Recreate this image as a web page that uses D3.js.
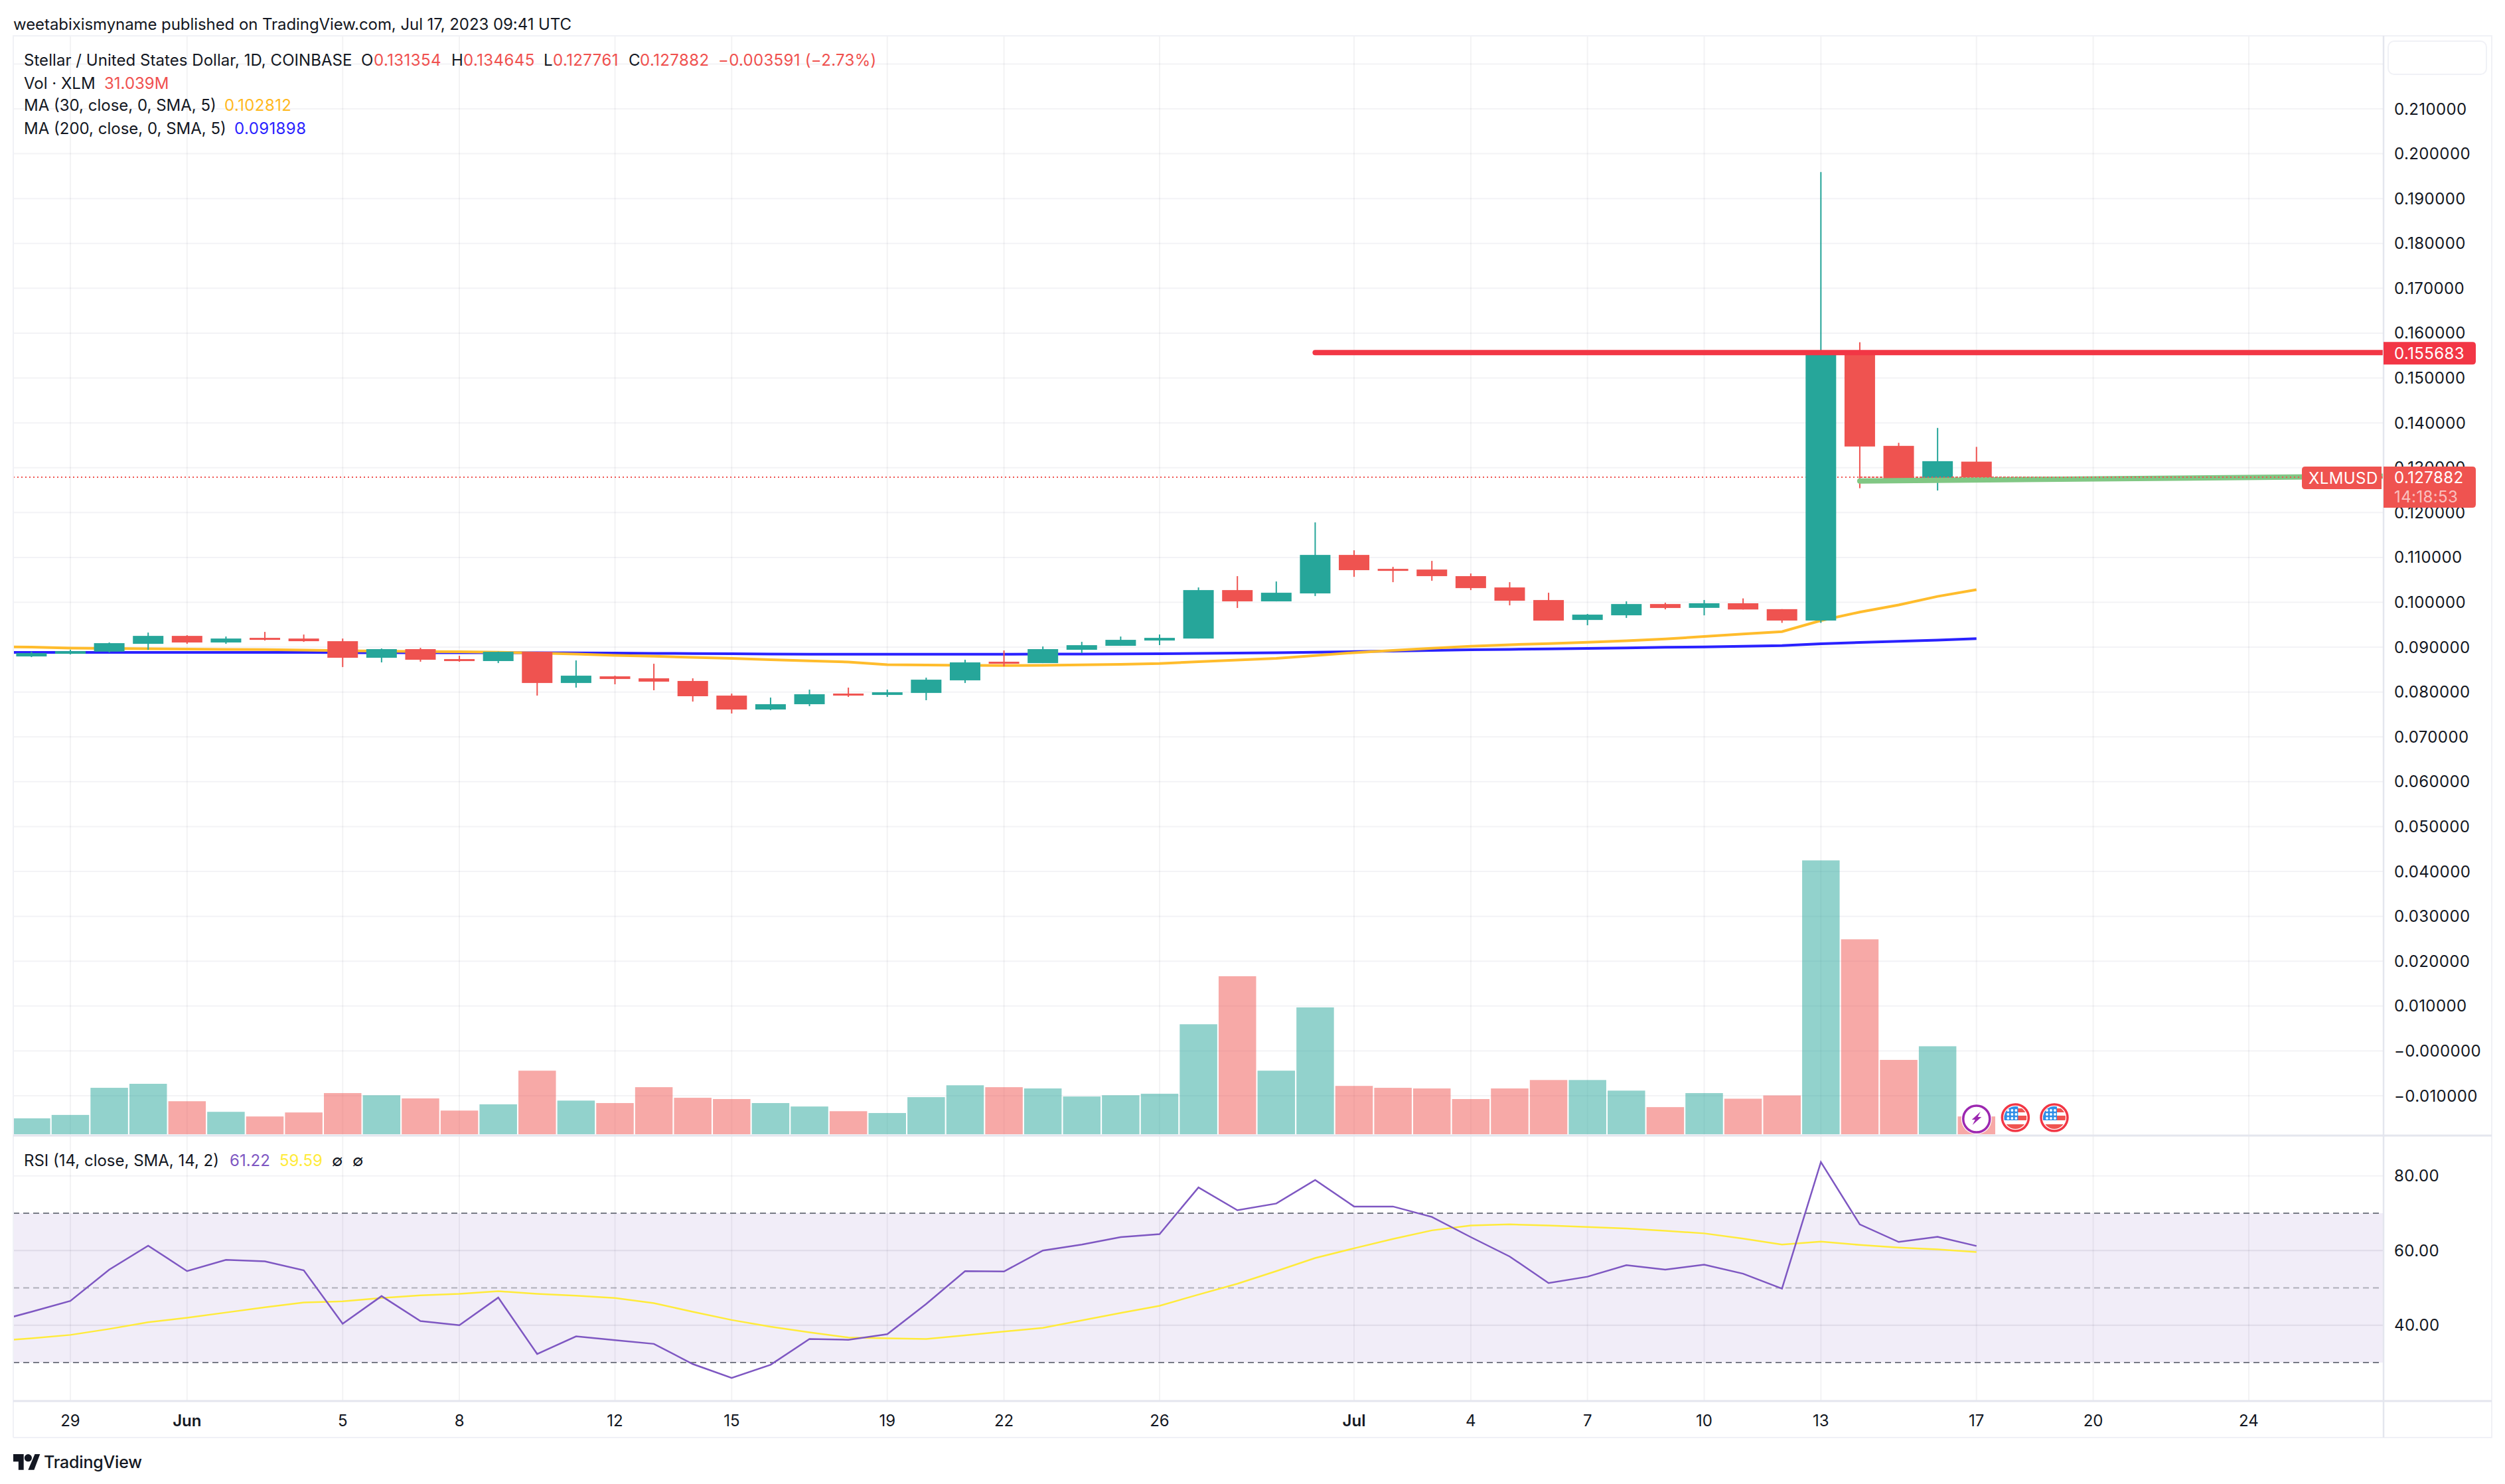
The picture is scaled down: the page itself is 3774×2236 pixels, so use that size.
<!DOCTYPE html>
<html><head><meta charset="utf-8">
<script src="https://d3js.org/d3.v7.min.js"></script>
<style>
html,body{margin:0;padding:0;background:#fff}
svg{display:block}
text{font-family:Inter,"Noto Sans",sans-serif;fill:#131722;font-size:24px;dominant-baseline:central}
</style></head><body><div id="c"></div>
<script>
const dates=["2023-05-27","2023-05-28","2023-05-29","2023-05-30","2023-05-31","2023-06-01","2023-06-02","2023-06-03","2023-06-04","2023-06-05","2023-06-06","2023-06-07","2023-06-08","2023-06-09","2023-06-10","2023-06-11","2023-06-12","2023-06-13","2023-06-14","2023-06-15","2023-06-16","2023-06-17","2023-06-18","2023-06-19","2023-06-20","2023-06-21","2023-06-22","2023-06-23","2023-06-24","2023-06-25","2023-06-26","2023-06-27","2023-06-28","2023-06-29","2023-06-30","2023-07-01","2023-07-02","2023-07-03","2023-07-04","2023-07-05","2023-07-06","2023-07-07","2023-07-08","2023-07-09","2023-07-10","2023-07-11","2023-07-12","2023-07-13","2023-07-14","2023-07-15","2023-07-16","2023-07-17"];
const opens=[null,.08793,.08852,.08901,.09074,.09251,.09104,.09207,.09192,.09133,.08763,.08956,.08734,.0869,.08896,.08201,.08349,.08305,.08246,.0792,.0761,.07728,.07965,.07935,.07979,.0826,.08675,.08645,.08941,.0903,.09148,.09192,.10272,.10021,.10198,.11056,.10745,.1073,.10583,.10331,.1005,.09606,.0971,.09961,.09876,.09978,.09847,.09593,.1556,.13487,.1274,.131354];
const highs=[null,.08901,.08941,.09104,.09325,.09266,.09237,.0934,.09281,.09192,.0897,.08985,.08808,.08901,.08896,.08704,.08364,.0863,.08305,.07965,.07876,.08053,.08098,.08053,.0832,.08719,.08926,.09015,.09118,.09237,.09281,.10331,.10583,.10464,.11781,.11159,.1079,.10923,.10642,.10449,.10213,.0974,.10021,.09991,.10051,.10087,.09847,.1959,.15797,.13555,.13887,.134645];
const lows=[null,.08778,.08837,.08882,.08941,.09074,.09074,.09148,.09118,.08556,.0866,.08675,.08675,.08645,.0792,.08098,.08172,.08039,.07787,.07521,.07595,.07684,.07891,.07891,.07817,.08201,.08571,.08645,.08867,.0903,.09044,.09192,.09873,.10021,.10139,.10568,.10449,.10479,.10272,.09932,.09592,.09488,.09651,.09843,.09709,.0984,.09542,.09542,.12543,.1271,.12492,.127761];
const closes=[null,.08867,.08911,.09089,.09251,.09104,.09192,.09163,.09133,.08763,.08956,.08719,.0869,.08896,.08201,.08364,.0829,.08231,.07906,.0761,.07728,.0795,.0792,.07994,.08275,.0866,.0863,.08956,.09044,.09163,.09207,.10272,.10021,.10213,.11056,.10716,.10701,.10583,.10316,.10035,.09592,.09725,.09961,.09873,.09978,.0984,.09593,.1556,.13473,.1274,.13146,.127882];
const volumes=[null,27.7,33.7,81,88,57.6,39.1,31,38,71.8,68,62.5,41.3,52.2,110.9,58.7,54.4,82.1,63.6,61.4,54.4,48.4,40.2,37,64.7,85.4,82.1,79.9,65.8,68,70.7,191.9,275.7,110.9,221.3,84.3,81,79.9,61.4,79.9,94.6,94.6,76.1,47.3,71.8,62,67.7,477.8,340.1,129.7,153.5,31.039];
const ma30=[.0901,.09,.0898,.0897,.08965,.08956,.08951,.08946,.08936,.08921,.08911,.08901,.08896,.08887,.08867,.08847,.08818,.08798,.08773,.08749,.08719,.08694,.0867,.0861,.08601,.08596,.08591,.08596,.08606,.08615,.08635,.08675,.08714,.08749,.08813,.08877,.08926,.08975,.0902,.09054,.09079,.09108,.09143,.09182,.09237,.09295,.09346,.09593,.09782,.09942,.10131,.102812];
const ma200=[.08882,.08882,.08882,.08882,.08882,.08882,.08882,.08882,.08882,.08877,.08877,.08877,.08877,.08877,.08877,.08872,.08867,.08862,.08857,.08852,.08847,.08842,.08842,.08842,.08842,.08842,.08842,.08845,.08847,.08849,.08852,.0886,.08868,.08876,.08887,.08901,.08914,.08928,.08941,.08951,.08961,.0897,.08984,.08997,.09005,.09018,.09034,.09077,.09104,.09131,.09158,.091898];
const rsi=[40.8,43.6,46.5,54.9,61.3,54.5,57.5,57.1,54.7,40.4,47.8,41.1,40,47.4,32.3,37,36,35,29.6,25.9,29.4,36.3,36.1,37.6,45.7,54.5,54.4,60,61.6,63.6,64.4,76.9,70.8,72.6,78.9,71.8,71.8,69,63.6,58.4,51.3,53,56.1,54.9,56.2,53.8,49.8,83.7,67,62.3,63.7,61.22];
const rsiMa=[35.7,36.5,37.4,39,40.8,42,43.4,44.8,46.1,46.4,47.3,48,48.4,49.1,48.4,47.9,47.3,45.9,43.6,41.4,39.6,38.1,36.7,36.5,36.3,37.3,38.3,39.3,41.3,43.3,45.2,48.2,51.1,54.5,58,60.6,63.1,65.4,66.7,67,66.7,66.3,65.9,65.3,64.6,63.2,61.6,62.4,61.5,60.8,60.3,59.59];
const priceTicks=[.22,.21,.2,.19,.18,.17,.16,.15,.14,.13,.12,.11,.1,.09,.08,.07,.06,.05,.04,.03,.02,.01,0,-.01];
const rsiTicks=[80,60,40];
const rsiBands=[70,50,30];
const timeTicks=[["2023-05-29","29"],["2023-06-01","Jun"],["2023-06-05","5"],["2023-06-08","8"],["2023-06-12","12"],["2023-06-15","15"],["2023-06-19","19"],["2023-06-22","22"],["2023-06-26","26"],["2023-07-01","Jul"],["2023-07-04","4"],["2023-07-07","7"],["2023-07-10","10"],["2023-07-13","13"],["2023-07-17","17"],["2023-07-20","20"],["2023-07-24","24"]];
const resistance={dates:["2023-06-30","2023-07-30"],values:[.155683,.155683]};
const support={dates:["2023-07-14","2023-07-28"],values:[.12703,.12815]};
const lastPrice=.127882;
const eventDates=[["2023-07-17","bolt"],["2023-07-18","us"],["2023-07-19","us"]];

const W=3774,H=2236,L=20,R=3591,RR=3754,T=54,SEP=1711,TA=2111,B=2166;
const UP="#26a69a",DN="#ef5350";
const p=d3.utcParse("%Y-%m-%d");
const x=d3.scaleUtc().domain([p("2023-05-29"),p("2023-07-24")]).range([106,3388]);
const y=d3.scaleLinear().domain([.21,-.01]).range([164,1651]);
const yVol=d3.scaleLinear().domain([0,500]).range([1709,1709-500/1.158]);
const yRsi=d3.scaleLinear().domain([30,70]).range([2053,1828]);
const svg=d3.select("#c").append("svg").attr("width",W).attr("height",H).attr("viewBox",[0,0,W,H]);
const defs=svg.append("defs");
defs.append("clipPath").attr("id","plot").append("rect").attr("x",L).attr("y",T).attr("width",R-L).attr("height",SEP-T);
defs.append("clipPath").attr("id","flag").append("circle").attr("r",17);

svg.append("rect").attr("width",W).attr("height",H).attr("fill","#fff");
const GRID="#f3f3f6";
svg.append("g").selectAll("line").data(priceTicks).join("line")
 .attr("x1",L).attr("x2",R).attr("y1",d=>y(d)).attr("y2",d=>y(d)).attr("stroke",GRID).attr("stroke-width",2);
svg.append("g").selectAll("line").data(rsiTicks).join("line")
 .attr("x1",L).attr("x2",R).attr("y1",d=>yRsi(d)).attr("y2",d=>yRsi(d)).attr("stroke",GRID).attr("stroke-width",2);
svg.append("rect").attr("x",L).attr("width",R-L).attr("y",yRsi(70)).attr("height",yRsi(30)-yRsi(70)).attr("fill","#7e57c2").attr("fill-opacity",.11);
svg.append("g").selectAll("line").data(rsiTicks.filter(d=>d<70&&d>30)).join("line")
 .attr("x1",L).attr("x2",R).attr("y1",d=>yRsi(d)).attr("y2",d=>yRsi(d)).attr("stroke","#131722").attr("stroke-opacity",.03).attr("stroke-width",2);
svg.append("g").selectAll("line").data(timeTicks).join("line")
 .attr("x1",d=>x(p(d[0]))).attr("x2",d=>x(p(d[0]))).attr("y1",T).attr("y2",TA).attr("stroke","#131722").attr("stroke-opacity",.05).attr("stroke-width",2);
svg.append("g").selectAll("line").data(rsiBands).join("line")
 .attr("x1",L).attr("x2",R).attr("y1",d=>yRsi(d)).attr("y2",d=>yRsi(d))
 .attr("stroke","#787b86").attr("stroke-opacity",d=>d===50?.55:1).attr("stroke-width",2).attr("stroke-dasharray","9 6");

const plot=svg.append("g").attr("clip-path","url(#plot)");
const rows=dates.map((d,i)=>({t:p(d),o:opens[i],h:highs[i],l:lows[i],c:closes[i],v:volumes[i]})).filter(d=>d.o!==null);
plot.append("g").selectAll("rect").data(rows).join("rect")
 .attr("x",d=>x(d.t)-28.25).attr("width",56.5).attr("y",d=>yVol(d.v)).attr("height",d=>yVol(0)-yVol(d.v))
 .attr("fill",d=>d.c>=d.o?UP:DN).attr("fill-opacity",.5);
plot.append("line").attr("x1",L).attr("x2",R).attr("y1",y(lastPrice)).attr("y2",y(lastPrice)).attr("stroke",DN).attr("stroke-width",2).attr("stroke-dasharray","2 4");
const line=d3.line().x((d,i)=>x(p(dates[i]))).y(d=>y(d));
plot.append("path").attr("d",line(ma200)).attr("fill","none").attr("stroke","#2a22ff").attr("stroke-width",4);
plot.append("path").attr("d",line(ma30)).attr("fill","none").attr("stroke","#ffbc2c").attr("stroke-width",4);
const cg=plot.append("g");
cg.selectAll("line").data(rows).join("line")
 .attr("x1",d=>x(d.t)).attr("x2",d=>x(d.t)).attr("y1",d=>y(d.h)).attr("y2",d=>y(d.l))
 .attr("stroke",d=>d.c>=d.o?UP:DN).attr("stroke-width",2);
cg.selectAll("rect").data(rows).join("rect")
 .attr("x",d=>x(d.t)-23).attr("width",46)
 .attr("y",d=>y(Math.max(d.o,d.c))).attr("height",d=>Math.max(3,y(Math.min(d.o,d.c))-y(Math.max(d.o,d.c))))
 .attr("fill",d=>d.c>=d.o?UP:DN);
const dl=vals=>d3.line().x(d=>x(p(d[0]))).y(d=>y(d[1]))(vals.dates.map((t,i)=>[t,vals.values[i]]));
plot.append("path").attr("d",dl(support)).attr("fill","none").attr("stroke","#81c784").attr("stroke-width",8).attr("stroke-linecap","round");
plot.append("line").attr("x1",x(p("2023-07-14"))).attr("x2",R).attr("y1",y(lastPrice)).attr("y2",y(lastPrice)).attr("stroke",DN).attr("stroke-width",2).attr("stroke-dasharray","2 4");
plot.append("path").attr("d",dl(resistance)).attr("fill","none").attr("stroke","#f23645").attr("stroke-width",8).attr("stroke-linecap","round");
// events
const ev=svg.append("g").selectAll("g").data(eventDates).join("g").attr("transform",d=>`translate(${x(p(d[0]))},${d[1]==="bolt"?1686:1684})`);
ev.append("circle").attr("r",23).attr("fill","#fff");
ev.each(function(d){
 const g=d3.select(this);
 if(d[1]==="bolt"){
  g.append("circle").attr("r",20).attr("fill","#fff").attr("stroke","#9c27b0").attr("stroke-width",3.5);
  g.append("path").attr("d","M6 -11 L-7 1 L-2 1 L-6 9 L7.5 -3 L2 -3 Z").attr("fill","#9c27b0");
 } else {
  const f=g.append("g").attr("clip-path","url(#flag)");
  f.append("rect").attr("x",-17).attr("y",-17).attr("width",34).attr("height",34).attr("fill","#fff");
  f.append("rect").attr("x",-17).attr("y",-14).attr("width",34).attr("height",6).attr("fill","#f05350");
  f.append("rect").attr("x",-17).attr("y",-3).attr("width",34).attr("height",7).attr("fill","#f05350");
  f.append("rect").attr("x",-17).attr("y",10).attr("width",34).attr("height",7).attr("fill","#f05350");
  f.append("rect").attr("x",-17).attr("y",-17).attr("width",21).attr("height",21).attr("fill","#2f8fe8");
  [-10,-4,2].forEach(a=>[-11,-5,1].forEach(b=>f.append("circle").attr("cx",a-1).attr("cy",b).attr("r",1.9).attr("fill","#fff")));
  g.append("circle").attr("r",20).attr("fill","none").attr("stroke","#f23645").attr("stroke-width",3.5);
 }
});
const rl=d3.line().x((d,i)=>x(p(dates[i]))).y(d=>yRsi(d));
defs.append("clipPath").attr("id","rsi").append("rect").attr("x",L).attr("y",SEP).attr("width",R-L).attr("height",TA-SEP);
const rg=svg.append("g").attr("clip-path","url(#rsi)");
rg.append("path").attr("d",rl(rsiMa)).attr("fill","none").attr("stroke","#ffeb3b").attr("stroke-width",2.5);
rg.append("path").attr("d",rl(rsi)).attr("fill","none").attr("stroke","#7e57c2").attr("stroke-width",2.5);
const frame="#e4e6ee";
svg.append("path").attr("d",`M${L} ${B}V${T}H${RR}V${B}H${L}`).attr("fill","none").attr("stroke","#f0f1f6").attr("stroke-width",2);
[SEP,TA].forEach(v=>svg.append("line").attr("x1",L).attr("x2",RR).attr("y1",v).attr("y2",v).attr("stroke",frame).attr("stroke-width",3));
svg.append("line").attr("x1",R).attr("x2",R).attr("y1",T).attr("y2",B).attr("stroke",frame).attr("stroke-width",2.5);
svg.append("rect").attr("x",3598).attr("y",62).attr("width",148).attr("height",50).attr("rx",9).attr("fill","#fff").attr("stroke","#f0f1f6").attr("stroke-width",2);
const fmt=d=>(d<=0?"\u2212":"")+Math.abs(d).toFixed(6);
svg.append("g").selectAll("text").data(priceTicks.filter(d=>d<.215)).join("text").attr("x",3607).attr("y",d=>y(d)).text(fmt).style("letter-spacing","0.4px");
svg.append("g").selectAll("text").data(rsiTicks).join("text").attr("x",3607).attr("y",d=>yRsi(d)).text(d=>d.toFixed(2)).style("letter-spacing","0.4px");
svg.append("g").selectAll("text").data(timeTicks).join("text").attr("x",d=>x(p(d[0]))).attr("y",2140).attr("text-anchor","middle")
 .style("font-weight",d=>isNaN(+d[1])?600:400).text(d=>d[1]);
const lab=(xx,yy,w,h,fill,r)=>svg.append("path").attr("fill",fill).attr("d",r==="r"
 ?`M${xx} ${yy}h${w-5}q5 0 5 5v${h-10}q0 5 -5 5h${-(w-5)}z`
 :`M${xx+5} ${yy}h${w-5}v${h}h${-(w-5)}q-5 0 -5 -5v${-(h-10)}q0 -5 5 -5z`);
const ry=y(resistance.values[0]);
lab(R,ry-16,139,34,"#f23645","r");
svg.append("text").attr("x",3607).attr("y",ry+1).text(resistance.values[0].toFixed(6)).style("fill","#fff").style("letter-spacing","0.4px");
const ly=y(lastPrice);
lab(R,ly-16,139,62,DN,"r");
svg.append("text").attr("x",3607).attr("y",ly).text(lastPrice.toFixed(6)).style("fill","#fff").style("letter-spacing","0.4px");
svg.append("text").attr("x",3607).attr("y",ly+29).text("14:18:53").style("fill","#fff").style("fill-opacity",.65).style("letter-spacing","0.4px");
lab(3468,ly-16,120,34,DN,"l");
svg.append("text").attr("x",3478).attr("y",ly+1).text("XLMUSD").style("fill","#fff").style("letter-spacing","0.4px");
const t=(xx,yy,s,c,ls)=>svg.append("text").attr("x",xx).attr("y",yy).text(s).style("fill",c||"#131722").style("letter-spacing",ls||"0");
t(20,36,"weetabixismyname published on TradingView.com, Jul 17, 2023 09:41 UTC",null,"-0.07px");
t(36,90,"Stellar / United States Dollar, 1D, COINBASE",null,"0.05px");
const red="#f0504e",LS="0.4px";
t(544,90,"O");t(563,90,"0.131354",red,LS);
t(680,90,"H");t(698,90,"0.134645",red,LS);
t(819,90,"L");t(833,90,"0.127761",red,LS);
t(947,90,"C");t(964,90,"0.127882",red,LS);
t(1082,90,"\u22120.003591 (\u22122.73%)",red,"0.3px");
t(36,125,"Vol \u00b7 XLM");t(157,125,"31.039M",red);
t(36,158,"MA (30, close, 0, SMA, 5)");t(338,158,"0.102812","#ffb81e",LS);
t(36,193,"MA (200, close, 0, SMA, 5)");t(353,193,"0.091898","#2a22ff",LS);
t(36,1748,"RSI (14, close, SMA, 14, 2)");t(346,1748,"61.22","#7e57c2");t(421,1748,"59.59","#ffeb3b");
t(500,1748,"\u2205");t(531,1748,"\u2205");
const logo=svg.append("g").attr("transform","translate(20,2190) scale(1.12)");
logo.append("path").attr("d","M14 22H7V11H0V1h14v21zM28 22h-8L29 1h7l-8 21z").attr("fill","#131722");
logo.append("circle").attr("cx",20).attr("cy",6).attr("r",5).attr("fill","#131722");
svg.append("text").attr("x",66).attr("y",2203).text("TradingView").style("font-weight",500).style("font-size","25px").style("letter-spacing","-0.2px");
</script></body></html>
